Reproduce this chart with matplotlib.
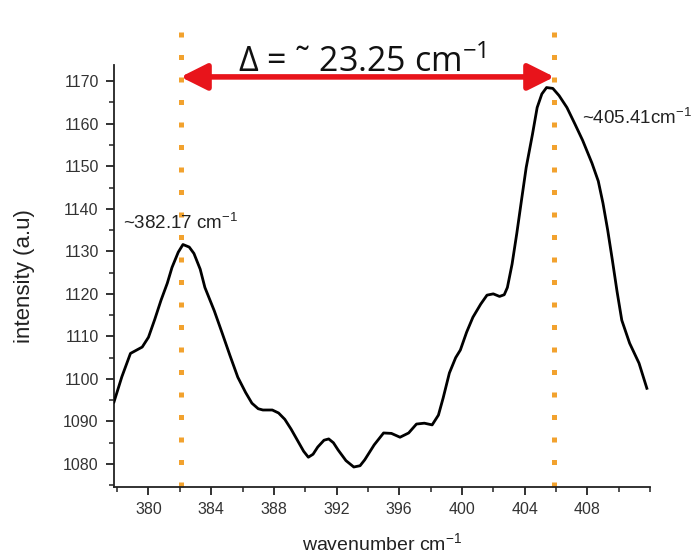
import numpy as np
import matplotlib
matplotlib.use("Agg")
import matplotlib.pyplot as plt
from matplotlib.ticker import MultipleLocator

# Spectrum (wavenumber cm-1, intensity a.u.)
wavenumber = [377.8, 378.3, 378.85, 379.6, 380.0, 380.4, 380.8, 381.2, 381.5,
              381.9, 382.2, 382.6, 382.9, 383.3, 383.6, 384.2, 384.7, 385.2,
              385.7, 386.2, 386.6, 387.0, 387.3, 387.9, 388.3, 388.7, 389.1,
              389.5, 389.9, 390.2, 390.5, 390.8, 391.2, 391.5, 391.8, 392.1,
              392.6, 393.1, 393.5, 393.8, 394.4, 395.0, 395.5, 396.05, 396.6,
              397.1, 397.6, 398.1, 398.5, 398.8, 399.2, 399.6, 399.9, 400.3,
              400.7, 401.2, 401.6, 402.0, 402.4, 402.7, 402.9, 403.2, 403.5,
              403.8, 404.1, 404.5, 404.8, 405.1, 405.4, 405.8, 406.2, 406.7,
              407.2, 407.7, 408.3, 408.7, 409.0, 409.3, 409.6, 409.9, 410.2,
              410.7, 411.3, 411.8]
intensity = [1094.6, 1100.5, 1106.0, 1107.5, 1109.8, 1114.0, 1118.5, 1122.5, 1126.2,
             1129.8, 1131.6, 1131.0, 1129.5, 1125.8, 1121.5, 1116.0, 1110.8, 1105.5,
             1100.4, 1096.8, 1094.3, 1093.0, 1092.7, 1092.7, 1092.0, 1090.5, 1088.2,
             1085.6, 1083.0, 1081.6, 1082.3, 1084.0, 1085.6, 1085.9, 1085.0, 1083.3,
             1080.8, 1079.3, 1079.6, 1081.0, 1084.5, 1087.3, 1087.2, 1086.3, 1087.3,
             1089.4, 1089.6, 1089.2, 1091.5, 1095.5, 1101.4, 1105.0, 1106.8, 1111.0,
             1114.5, 1117.6, 1119.7, 1120.0, 1119.4, 1119.8, 1121.5, 1127.0, 1134.2,
             1142.0, 1149.7, 1157.5, 1163.8, 1167.0, 1168.5, 1168.3, 1166.6, 1163.8,
             1160.0, 1156.1, 1150.7, 1146.5, 1141.3, 1135.0, 1127.9, 1120.5, 1113.8,
             1108.4, 1103.7, 1097.8]

# Marked peaks
peak_pos = [382.05, 405.9]
peak_labels = ["~382.17 cm$^{\\mathregular{-1}}$", "~405.41cm$^{\\mathregular{-1}}$"]
label_xy = [(378.35, 1135.2), (407.65, 1160.0)]
delta_text = "Δ = ˜ 23.25 cm$^{\\mathregular{-1}}$"

plt.rcParams["font.family"] = ["Liberation Sans", "DejaVu Sans"]

fig = plt.figure(figsize=(6.97, 5.57), dpi=100)
ax = fig.add_axes([114 / 697, 1 - 487 / 557, 536 / 697, 422 / 557])

xmin, xmax = 377.8, 412.0
ymin, ymax = 1074.6, 1173.8

# orange dotted markers at the peaks
for p in peak_pos:
    ax.plot([p, p], [ymin, 1184.5], color="#F2A22E", lw=3.6,
            linestyle=(0, (1, 3.5)), dash_capstyle="butt", clip_on=False, zorder=1)

ax.plot(wavenumber, intensity, color="black", lw=2.0, zorder=3,
        solid_joinstyle="round")

# double arrow between peaks
ax.annotate("", xy=(peak_pos[1], 1171.0), xytext=(peak_pos[0], 1171.0),
            arrowprops=dict(arrowstyle="<|-|>,head_length=0.8,head_width=0.4",
                            color="#E8141B", lw=4.0, shrinkA=0, shrinkB=0,
                            mutation_scale=20),
            annotation_clip=False, zorder=4)

fig.text(0.52, 1 - 72 / 557, delta_text, ha="center", va="baseline",
         fontsize=24.5, family=["Open Sans", "DejaVu Sans"], color="#111111")

for lab, (lx, ly) in zip(peak_labels, label_xy):
    ax.text(lx, ly, lab, ha="left", va="baseline", fontsize=13.5, color="#222222")

ax.set_xlim(xmin, xmax)
ax.set_ylim(ymin, ymax)
ax.xaxis.set_major_locator(MultipleLocator(4))
ax.xaxis.set_minor_locator(MultipleLocator(2))
ax.yaxis.set_major_locator(MultipleLocator(10))
ax.yaxis.set_minor_locator(MultipleLocator(5))
ax.set_xticks(np.arange(380, 412, 4))

for s in ["top", "right"]:
    ax.spines[s].set_visible(False)
for s in ["left", "bottom"]:
    ax.spines[s].set_linewidth(1.3)
    ax.spines[s].set_color("#222222")

ax.tick_params(which="major", direction="out", length=6, width=1.3,
               labelsize=11.5, labelcolor="#333333", color="#222222", pad=5)
ax.tick_params(which="minor", direction="out", length=3.5, width=1.1, color="#222222")

ax.set_xlabel("wavenumber cm$^{\\mathregular{-1}}$", fontsize=14, color="#222222", labelpad=11)
ax.set_ylabel("intensity (a.u)", fontsize=16, color="#222222", labelpad=20)

fig.savefig("out.png", dpi=100)
